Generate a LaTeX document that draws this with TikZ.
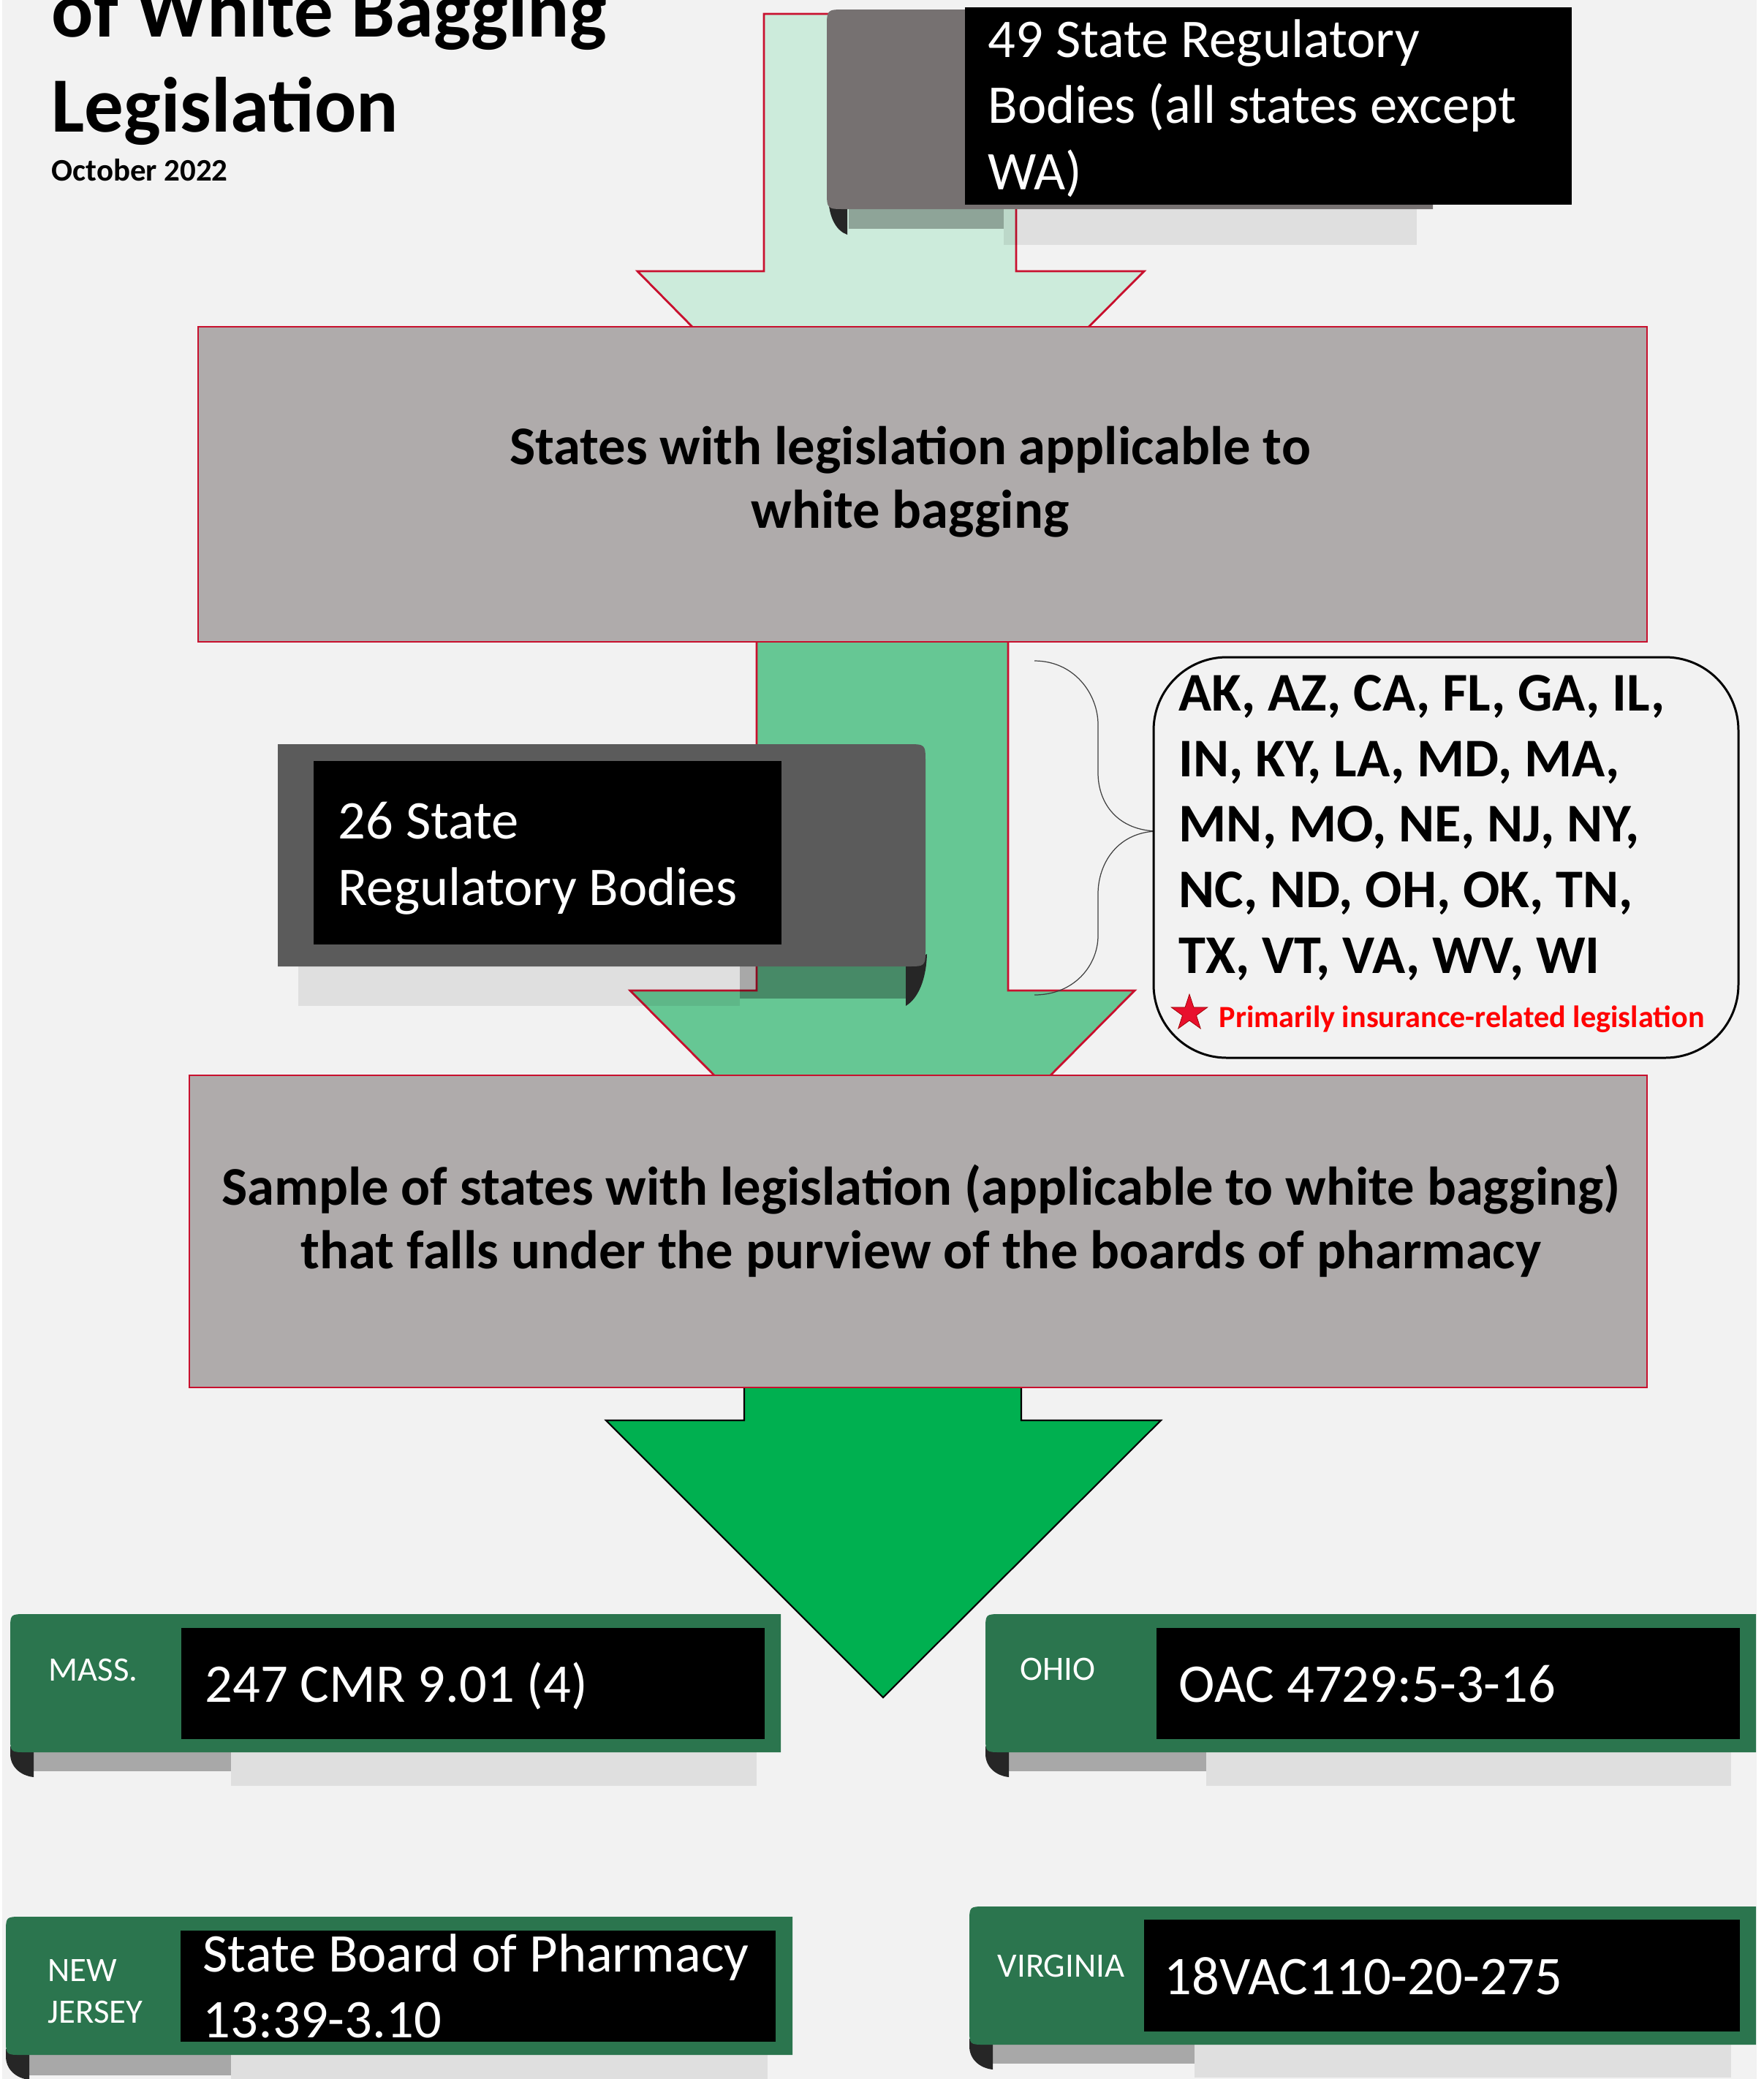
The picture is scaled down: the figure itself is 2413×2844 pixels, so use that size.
\documentclass[tikz,border=0pt]{standalone}
\usepackage{fontspec}
\setmainfont{Carlito}
\usetikzlibrary{shapes.geometric}
\definecolor{bg}{HTML}{F2F2F2}
\definecolor{lgreen}{HTML}{CCEBDB}
\definecolor{mgreen}{HTML}{66C794}
\definecolor{bgreen}{HTML}{00B050}
\definecolor{redb}{RGB}{200,16,46}
\definecolor{boxgray}{HTML}{AFABAB}
\definecolor{grayA}{HTML}{767171}
\definecolor{grayB}{HTML}{5B5B5B}
\definecolor{dgreen}{HTML}{2B754E}
\definecolor{curlc}{HTML}{262626}
\definecolor{bracec}{HTML}{404040}
\definecolor{legred}{HTML}{FF0000}
\definecolor{starred}{HTML}{E8102D}
\newcommand{\cardbody}[4]{%
  \fill[dgreen] (#3,#2) -- (#1+22,#2) .. controls (#1,#2) .. (#1,#2+22) -- (#1,#4-22) .. controls (#1,#4) .. (#1+22,#4) -- (#3,#4) -- cycle;}
\newcommand{\leftcurl}[3]{% x1, bottom y, x2
  \fill[curlc] (#1,#2-8) -- (#1,#2+2) .. controls (#1,#2+20) and (#1+14,#2+32) .. (#3,#2+34) -- (#3,#2) -- cycle;}
\begin{document}
\begin{tikzpicture}[x=0.01cm,y=-0.01cm,
  redbox/.style={fill=boxgray, draw=redb, line width=0.8pt},
  bodytext/.style={inner sep=0pt, font=\bfseries\fontsize{21.2pt}{24.5pt}\selectfont, align=center},
  whitetext/.style={inner sep=0pt, text=white, align=left, font=\fontsize{21.2pt}{25.6pt}\selectfont},
  labeltext/.style={inner sep=0pt, text=white, align=left, font=\fontsize{13.3pt}{16pt}\selectfont},
  darkshadow/.style={fill=black, fill opacity=0.3},
  lightshadow/.style={fill=black, fill opacity=0.08}]
\useasboundingbox (0,0) rectangle (2413,2844);
\clip (0,0) rectangle (2413,2844);
\fill[white] (0,0) rectangle (2413,2844);
\fill[bg] (3,0) rectangle (2403,2844);

% title (first line is cut by the top edge, as in the reference)
\node[inner sep=0pt, anchor=base west, align=left, font=\bfseries\fontsize{30.4pt}{36.7pt}\selectfont] (title) at (70,180) {of White Bagging\\Legislation};
\node[inner sep=0pt, anchor=base west, font=\bfseries\fontsize{12.2pt}{14pt}\selectfont] (date) at (70,247) {October 2022};

% block arrows
\draw[fill=lgreen, draw=redb, line width=0.8pt] (1045,19) -- (1390,19) -- (1390,371) -- (1565,371) -- (1217,721) -- (872,371) -- (1045,371) -- cycle;
\draw[fill=mgreen, draw=redb, line width=0.8pt] (1035,870) -- (1379,870) -- (1379,1355) -- (1552,1355) -- (1207,1703) -- (862,1355) -- (1035,1355) -- cycle;
\draw[fill=bgreen, draw=black, line width=0.6pt] (1018,1890) -- (1397,1890) -- (1397,1943) -- (1588,1943) -- (1208,2322) -- (829,1943) -- (1018,1943) -- cycle;

% main boxes
\draw[redbox] (271,447) rectangle (2253,878);
\node[bodytext, anchor=base] (box1) at (1245,722) {States with legislation applicable to\\white bagging};
\draw[redbox] (259,1471) rectangle (2253,1898);
\node[bodytext, anchor=base] (box2) at (1260,1735) {Sample of states with legislation (applicable to white bagging)\\that falls under the purview of the boards of pharmacy};

% 49 state box
\fill[darkshadow] (1161,286) rectangle (1373,313);
\fill[lightshadow] (1373,286) rectangle (1938,335);
\fill[curlc] (1133,270) .. controls (1134,300) and (1145,316) .. (1159,321) -- (1159,286) -- cycle;
\fill[grayA] (1960,13) -- (1156,13) .. controls (1131,13) .. (1131,38) -- (1131,261) .. controls (1131,286) .. (1156,286) -- (1960,286) -- cycle;
\fill[black] (1320,10) rectangle (2150,280);
\node[whitetext, anchor=base west] (b49) at (1351,259) {49 State Regulatory\\Bodies (all states except\\WA)};

% 26 state box
\fill[lightshadow] (408,1322) rectangle (1012,1376);
\fill[darkshadow] (1012,1322) rectangle (1239,1366);
\fill[curlc] (1268,1305) .. controls (1267,1340) and (1256,1366) .. (1239,1376) -- (1239,1322) -- cycle;
\fill[grayB] (380,1018) -- (1241,1018) .. controls (1266,1018) .. (1266,1043) -- (1266,1297) .. controls (1266,1322) .. (1241,1322) -- (380,1322) -- cycle;
\fill[black] (429,1041) rectangle (1069,1292);
\node[whitetext, anchor=base west] (b26) at (462,1238) {26 State\\Regulatory Bodies};

% brace
\draw[bracec, line width=0.35pt] (1415,904) .. controls (1470,904) and (1502,950) .. (1502,991) -- (1502,1057) .. controls (1502,1100) and (1530,1137) .. (1585,1137) .. controls (1530,1137) and (1502,1180) .. (1502,1223) -- (1502,1280) .. controls (1502,1320) and (1470,1361) .. (1415,1361);

% list box
\draw[fill=bg, draw=black, line width=0.85pt, rounded corners=1cm] (1578,899) rectangle (2378,1447);
\node[inner sep=0pt, anchor=base west, align=left, font=\bfseries\fontsize{21.2pt}{25.5pt}\selectfont] (list) at (1612,1331) {AK, AZ, CA, FL, GA, IL,\\IN, KY, LA, MD, MA,\\MN, MO, NE, NJ, NY,\\NC, ND, OH, OK, TN,\\TX, VT, VA, WV, WI};
\node[star, star points=5, star point ratio=2.6, fill=starred, draw=red!60!black, line width=0.2pt, inner sep=0pt, minimum size=0.52cm] (star) at (1627,1386) {};
\node[inner sep=0pt, anchor=base west, text=legred, font=\bfseries\fontsize{12pt}{14pt}\selectfont] (legend) at (1667,1405) {Primarily insurance-related legislation};

% MASS card
\fill[darkshadow] (46,2397) rectangle (316,2423);
\fill[lightshadow] (316,2397) rectangle (1035,2443);
\leftcurl{14}{2397}{46}
\cardbody{14}{2208}{1068}{2397}
\fill[black] (248,2227) rectangle (1046,2379);
\node[labeltext, anchor=base west] (lmass) at (66,2299) {MASS.};
\node[whitetext, anchor=base west] (tmass) at (280,2328) {247 CMR 9.01 (4)};

% OHIO card
\fill[darkshadow] (1380,2397) rectangle (1650,2423);
\fill[lightshadow] (1650,2397) rectangle (2368,2443);
\leftcurl{1348}{2397}{1380}
\cardbody{1348}{2208}{2402}{2397}
\fill[black] (1582,2227) rectangle (2380,2379);
\node[labeltext, anchor=base west] (lohio) at (1395,2298) {OHIO};
\node[whitetext, anchor=base west] (tohio) at (1612,2328) {OAC 4729:5-3-16};

% NEW JERSEY card
\fill[darkshadow] (40,2811) rectangle (316,2839);
\fill[lightshadow] (316,2811) rectangle (1050,2850);
\leftcurl{8}{2811}{40}
\cardbody{8}{2622}{1084}{2811}
\fill[black] (247,2641) rectangle (1061,2793);
\node[labeltext, anchor=base west] (lnj) at (65,2767) {NEW\\JERSEY};
\node[whitetext, anchor=base west] (tnj) at (277,2787) {State Board of Pharmacy\\13:39-3.10};

% VIRGINIA card
\fill[darkshadow] (1358,2797) rectangle (1634,2823);
\fill[lightshadow] (1634,2797) rectangle (2368,2842);
\leftcurl{1326}{2797}{1358}
\cardbody{1326}{2608}{2402}{2797}
\fill[black] (1565,2626) rectangle (2380,2779);
\node[labeltext, anchor=base west] (lva) at (1364,2704) {VIRGINIA};
\node[whitetext, anchor=base west] (tva) at (1592,2728) {18VAC110-20-275};
\end{tikzpicture}
\end{document}
